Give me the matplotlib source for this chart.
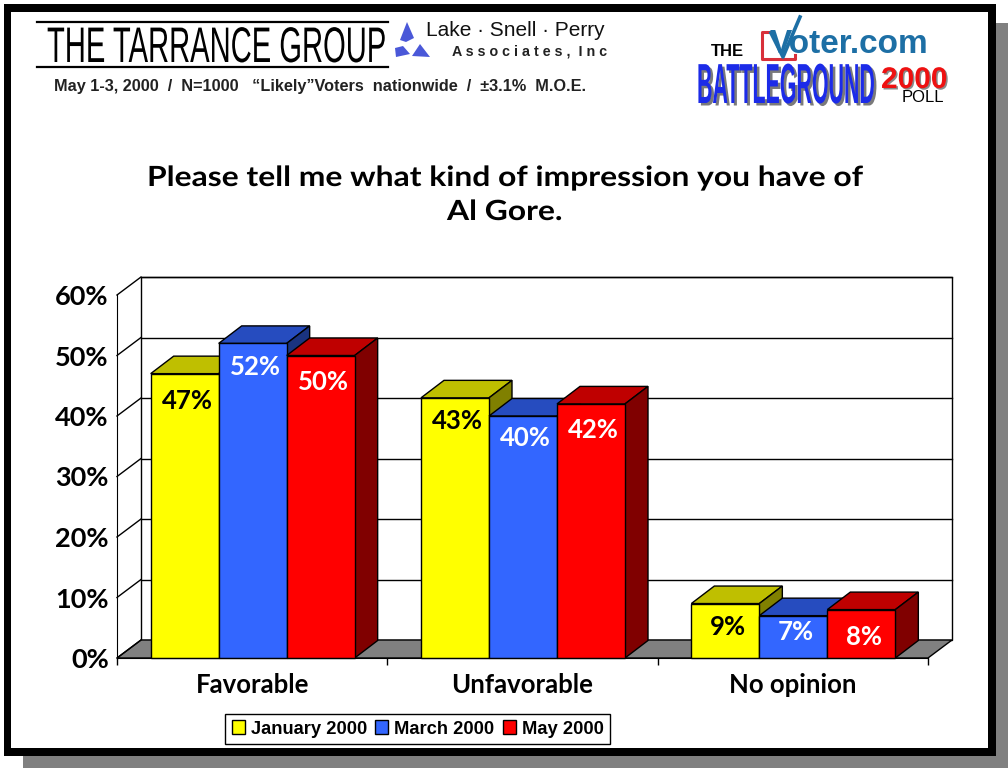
import matplotlib
matplotlib.use("Agg")
import matplotlib.pyplot as plt
import matplotlib.patheffects as pe
from matplotlib.colors import to_rgb
from matplotlib.patches import Patch, Polygon, Rectangle
from matplotlib.transforms import Affine2D

categories = ["Favorable", "Unfavorable", "No opinion"]
series_names = ["January 2000", "March 2000", "May 2000"]
january = [47, 43, 9]
march = [52, 40, 7]
may = [50, 42, 8]
y_ticks = [0, 10, 20, 30, 40, 50, 60]

front_colors = ["#FFFF00", "#3366FF", "#FF0000"]
top_colors = ["#BFBF00", "#264CBF", "#BF0000"]
side_colors = ["#808000", "#1A3380", "#800000"]
label_colors = ["black", "white", "white"]
# how far below the bar top each value label sits, in pixels
label_drop = [[27, 23, 23], [24, 22, 16], [27, 26, 27]]

W, H = 1008, 768
CHART_FONT = "Lato"


class Tall(pe.AbstractPathEffect):
    """Stretch a text upward from its baseline, for the tall logo lettering."""

    def __init__(self, sy, y, dx=0, dy=0, color=None):
        super().__init__()
        self.t = (Affine2D().translate(0, -(H - y)).scale(1, sy)
                  .translate(dx, H - y - dy))
        self.color = to_rgb(color) if color else None

    def draw_path(self, renderer, gc, tpath, affine, rgbFace=None):
        face = self.color if self.color else rgbFace
        renderer.draw_path(gc, tpath, affine + self.t, face)


fig = plt.figure(figsize=(W / 100, H / 100), dpi=100, facecolor="white")

# frame and header, in pixel coordinates
bg = fig.add_axes([0, 0, 1, 1])
bg.set_xlim(0, W)
bg.set_ylim(H, 0)
bg.axis("off")
bg.add_patch(Rectangle((23, 23), W - 23, H - 23, color="#808080", lw=0))
bg.add_patch(Rectangle((4, 4), 992, 752, color="black", lw=0))
bg.add_patch(Rectangle((11, 12), 977, 736, color="white", lw=0))

for yy in (22, 67):
    bg.plot([37, 388], [yy, yy], color="black", lw=1.6)
bg.text(47, 62, "THE TARRANCE GROUP", fontsize=21, family="Liberation Sans",
        color="black", path_effects=[Tall(1.714, 62)])
for pts in ([(407, 22), (414, 38), (406, 42), (400, 40)],
            [(395, 48), (403, 46), (410, 54), (396, 57)],
            [(412, 56), (420, 44), (430, 57)]):
    bg.add_patch(Polygon(pts, color="#4A58D8", lw=0))
bg.text(426, 36, "Lake \u00b7 Snell \u00b7 Perry", fontsize=15,
        family="Liberation Sans", color="#111111")
bg.text(452, 55, "A s s o c i a t e s ,  I n c", fontsize=10.3,
        family="Liberation Sans", weight="bold", color="#222222")
bg.text(54, 91, "May 1-3, 2000  /  N=1000   \u201cLikely\u201dVoters  nationwide  /  \u00b13.1%  M.O.E.",
        fontsize=11.7, family="Liberation Sans", weight="bold", color="#222222")

bg.text(711, 56, "THE", fontsize=12, family="Liberation Sans", weight="bold")
bg.plot([772, 762, 762, 795, 795], [32, 32, 59, 59, 55], color="#D8303A", lw=2.2)
bg.text(770, 53, "Voter.com", fontsize=24, family="Liberation Sans",
        weight="bold", color="#1D6FA5")
bg.plot([771, 783, 800], [33, 57, 17], color="#1D6FA5", lw=2.6)
bg.text(697, 103, "BATTLEGROUND", fontsize=15.4, family="Liberation Sans",
        weight="bold", color="#1C2BE8",
        path_effects=[Tall(2.64, 103, 2.5, 2.5, "#7A7A7A"), Tall(2.64, 103)])
bg.text(881, 88, "2000", fontsize=21.5, family="Liberation Sans", weight="bold",
        color="#EE1111",
        path_effects=[Tall(1, 88, 1.5, 1.5, "#8A8A8A"), Tall(1, 88)])
bg.text(902, 102, "POLL", fontsize=12, family="Liberation Sans")

bg.text(147, 186, "Please tell me what kind of impression you have of",
        fontsize=22.9, family=CHART_FONT, weight="bold",
        path_effects=[Tall(0.874, 186)])
bg.text(447, 220, "Al Gore.", fontsize=22.9, family=CHART_FONT, weight="bold",
        path_effects=[Tall(0.874, 220)])

# chart: the axes box is the front plane of the 3D frame
ax = fig.add_axes([117 / W, 1 - 658 / H, 811 / W, 363 / H])
ax.patch.set_visible(False)
ax.set_xlim(0, len(categories))
ax.set_ylim(0, 60)
px_x = 811 / len(categories)
px_y = 363 / 60
wall_dx, wall_dy = 24 / px_x, 18 / px_y
bar_dx, bar_dy = 23 / px_x, 17.5 / px_y
bar_w = 68 / px_x

n = len(categories)
ax.add_patch(Polygon([(wall_dx, wall_dy), (n + wall_dx, wall_dy),
                      (n + wall_dx, 60 + wall_dy), (wall_dx, 60 + wall_dy)],
                     fc="white", ec="black", lw=1, clip_on=False, zorder=1))
ax.add_patch(Polygon([(0, 0), (n, 0), (n + wall_dx, wall_dy), (wall_dx, wall_dy)],
                     fc="#808080", ec="black", lw=1, clip_on=False, zorder=2))
for t in y_ticks:
    if t > 0:
        ax.plot([wall_dx, n + wall_dx], [t + wall_dy, t + wall_dy],
                color="black", lw=1, clip_on=False, zorder=2)
    ax.plot([0, wall_dx], [t, t + wall_dy], color="black", lw=1,
            clip_on=False, zorder=2)

z = 3
for j, vals in enumerate([january, march, may]):
    for i, v in enumerate(vals):
        x0 = i + 0.5 + (j - 1.5) * bar_w + 0.5 / px_x
        x1 = x0 + bar_w
        ax.add_patch(Polygon([(x0, v), (x1, v), (x1 + bar_dx, v + bar_dy),
                              (x0 + bar_dx, v + bar_dy)], fc=top_colors[j],
                             ec="black", lw=1, clip_on=False, zorder=z + i * 10))
        ax.add_patch(Polygon([(x1, 0), (x1 + bar_dx, bar_dy),
                              (x1 + bar_dx, v + bar_dy), (x1, v)],
                             fc=side_colors[j], ec="black", lw=1,
                             clip_on=False, zorder=z + i * 10))
        ax.bar(x0 + bar_w / 2, v, width=bar_w, color=front_colors[j],
               edgecolor="black", linewidth=1, clip_on=False,
               zorder=z + i * 10 + 0.5)
        ax.annotate(f"{v}%", (x0 + bar_w / 2, v),
                    xytext=(2, -label_drop[j][i] * 0.72),
                    textcoords="offset points", ha="center", va="center",
                    fontsize=18.5, family=CHART_FONT, weight="bold",
                    color=label_colors[j], zorder=100)
    z += 1

for s in ("top", "right"):
    ax.spines[s].set_visible(False)
ax.spines["left"].set_zorder(60)
ax.spines["bottom"].set_zorder(60)
ax.set_yticks(y_ticks, [f"{t}%" for t in y_ticks], fontsize=19.5,
              family=CHART_FONT, weight="bold")
ax.tick_params(axis="y", length=0, pad=6)
ax.set_xticks([i + 0.5 for i in range(n)], categories, fontsize=18.5,
              family=CHART_FONT, weight="bold")
ax.set_xticks(range(n + 1), minor=True)
ax.tick_params(axis="x", which="major", length=0, pad=11)
ax.tick_params(axis="x", which="minor", length=5, width=1)

handles = [Patch(fc=c, ec="black", lw=1, label=name)
           for c, name in zip(front_colors, series_names)]
leg = ax.legend(handles=handles, ncol=3, loc="center",
                bbox_to_anchor=(417.5 / W, 1 - 729 / H),
                bbox_transform=fig.transFigure, frameon=True, fancybox=False,
                edgecolor="black", framealpha=1, handlelength=0.72,
                handleheight=0.8, handletextpad=0.32, columnspacing=0.45,
                borderpad=0.35, borderaxespad=0,
                prop={"family": "Liberation Sans", "weight": "bold", "size": 13.2})
leg.get_frame().set_linewidth(1)

fig.savefig("out.png", dpi=100)
